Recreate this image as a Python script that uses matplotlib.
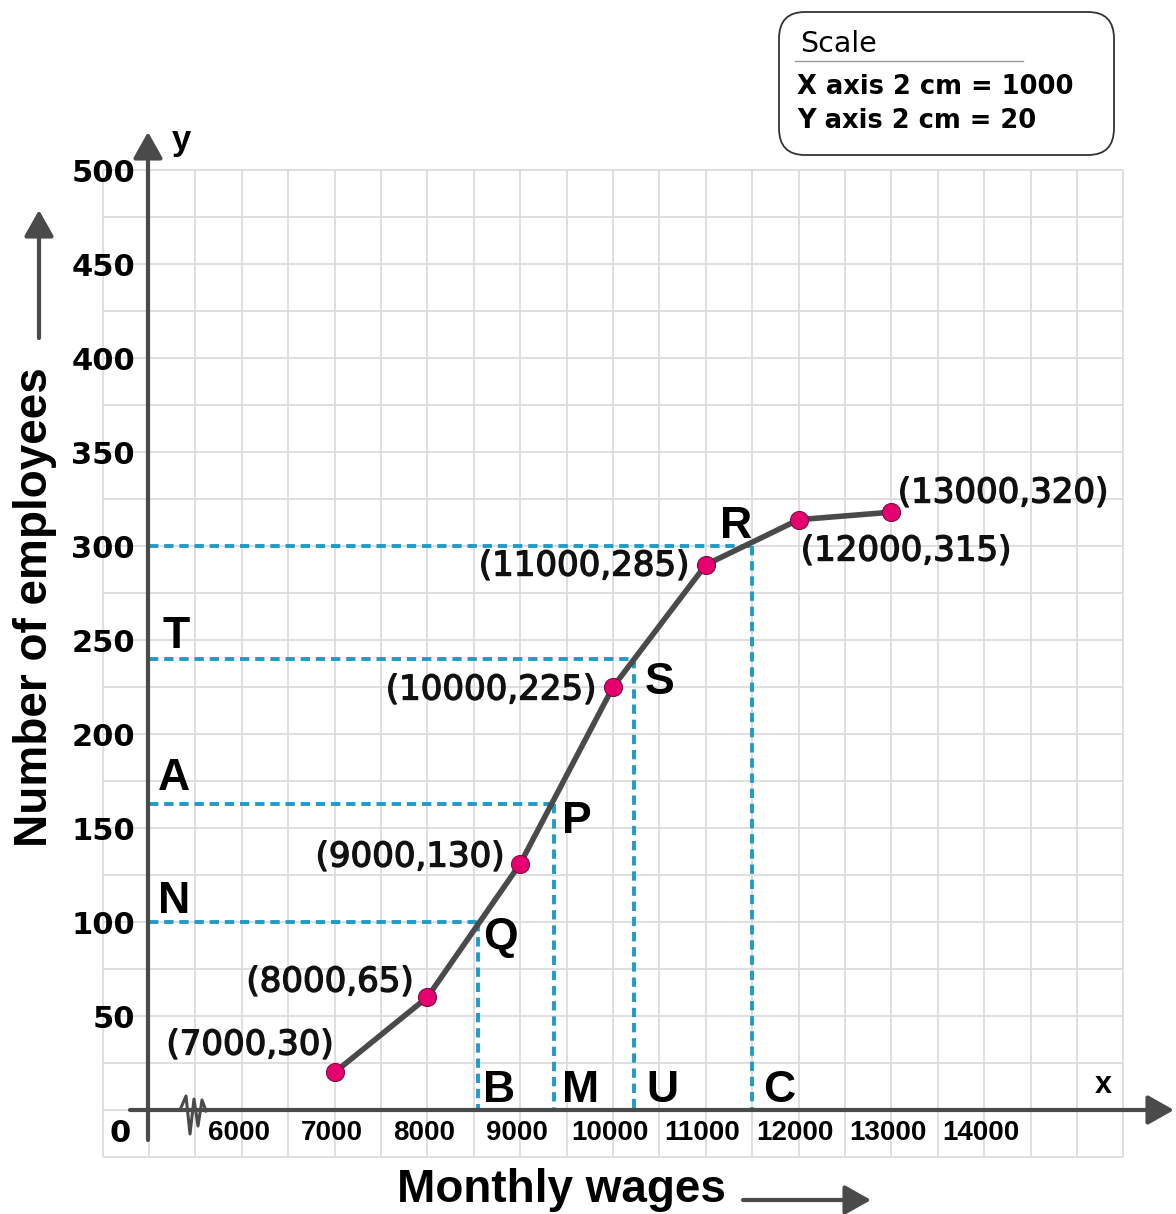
import matplotlib.pyplot as plt
import matplotlib.patheffects as pe
from matplotlib.patches import FancyArrowPatch, FancyBboxPatch

# cumulative frequency (ogive) - points as they sit on the grid
wages = [7000, 8000, 9000, 10000, 11000, 12000, 13000]
employees = [20, 60, 131, 225, 290, 314, 318]
point_labels = ['(7000,30)', '(8000,65)', '(9000,130)', '(10000,225)',
                '(11000,285)', '(12000,315)', '(13000,320)']

x_ticks = [6000, 7000, 8000, 9000, 10000, 11000, 12000, 13000, 14000]
y_ticks = [50, 100, 150, 200, 250, 300, 350, 400, 450, 500]

# dashed guide lines: level on y axis and where it meets the curve
guide_y = [100, 163, 240, 300]
guide_x = [8540, 9365, 10230, 11500]

GREY = '#4a4a4a'
BLUE = '#1f9bc7'
PINK = '#e5006f'

# pixel -> data helper (layout only)
def px(x, y):
    return 5000 + (x - 149) / 0.0928, (1110 - y) / 1.88

fig = plt.figure(figsize=(11.76, 12.14), dpi=100)
ax = fig.add_axes([0, 0, 1, 1])
x0, y0 = px(0, 1214)
x1, y1 = px(1176, 0)
ax.set_xlim(x0, x1)
ax.set_ylim(y0, y1)
ax.axis('off')

# graph paper
ax.vlines(range(4500, 15501, 500), -25, 500, color='#dcdcdc', lw=1.3, zorder=0)
ax.hlines(range(-25, 501, 25), 4500, 15500, color='#dcdcdc', lw=1.3, zorder=0)

# axes with arrow heads
def arrow(a, b, lw=3.0):
    p = FancyArrowPatch(a, b, arrowstyle='-|>,head_width=0.45,head_length=0.8',
                        mutation_scale=20, lw=lw, color=GREY, shrinkA=0, shrinkB=0,
                        zorder=5)
    ax.add_patch(p)

arrow(px(148, 1140), px(148, 132))
arrow(px(130, 1110), px(1174, 1110))

# axis break
zz = [(180, 1110), (186, 1096), (190, 1134), (194, 1099), (198, 1126), (202, 1100), (206, 1111)]
ax.plot([px(*p)[0] for p in zz], [px(*p)[1] for p in zz], color=GREY, lw=2.2, zorder=6)

# tick labels
for v in y_ticks:
    ax.text(px(135, 0)[0], v - 2, str(v), ha='right', va='center', fontsize=22,
            fontweight='bold', family='DejaVu Sans')
for v in x_ticks:
    ax.text(v - 35, px(0, 1133)[1], str(v), ha='center', va='center', fontsize=20,
            fontweight='bold', family='Liberation Sans')
ax.text(*px(120, 1133), '0', ha='center', va='center', fontsize=22,
        fontweight='bold', family='DejaVu Sans')
ax.text(*px(172, 150), 'y', ha='left', va='baseline', fontsize=25,
        fontweight='bold', family='Liberation Sans')
ax.text(*px(1103, 1093), 'x', ha='center', va='baseline', fontsize=22,
        fontweight='bold', family='Liberation Sans')

# guide lines
for gy, gx in zip(guide_y, guide_x):
    ax.plot([5000, gx], [gy, gy], color=BLUE, lw=2.8, dashes=(2.4, 1.5), zorder=2)
    ax.plot([gx, gx], [gy, 0], color=BLUE, lw=2.8, dashes=(2.4, 1.5), zorder=2)

# ogive
ax.plot(wages, employees, color=GREY, lw=4, zorder=3, solid_capstyle='round')
ax.plot(wages, employees, 'o', ms=13, mfc=PINK, mec='#7a1040', mew=0.8, zorder=4)

label_pos = [(250, 1045), (330, 982), (410, 857), (491, 690),
             (584, 566), (906, 551), (1003, 493)]
for txt, pos in zip(point_labels, label_pos):
    ax.text(*px(*pos), txt, ha='center', va='center', fontsize=24.5,
            family='DejaVu Sans', color='#111111',
            path_effects=[pe.withStroke(linewidth=1.0, foreground='#111111')])

# letters
letters = ['T', 'A', 'N', 'S', 'P', 'Q', 'R', 'B', 'M', 'U', 'C']
letter_pos = [(163, 648), (158, 790), (158, 913), (645, 694), (562, 833), (483, 949),
              (720, 538), (483, 1102), (562, 1102), (646, 1102), (763, 1102)]
for t, pos in zip(letters, letter_pos):
    ax.text(*px(*pos), t, ha='left', va='baseline', fontsize=32,
            fontweight='bold', family='Liberation Sans')

# axis titles
ax.text(*px(47, 607), 'Number of employees', rotation=90, rotation_mode='anchor',
        ha='center', va='baseline', fontsize=33, fontweight='bold', family='Liberation Sans')
arrow(px(39, 338), px(39, 210))
ax.text(*px(561, 1202), 'Monthly wages', ha='center', va='baseline', fontsize=33,
        fontweight='bold', family='Liberation Sans')
arrow(px(743, 1200), px(871, 1200))

# scale box
W, H = 1176, 1214
box = FancyBboxPatch((779 / W, 1 - 155 / H), (1114 - 779) / W, 143 / H,
                     boxstyle='round,pad=0,rounding_size=0.022', transform=fig.transFigure,
                     fc='white', ec='#333333', lw=1.3)
fig.add_artist(box)
fig.text(800 / W, 1 - 52 / H, 'Scale', fontsize=20.5, family='DejaVu Sans', va='baseline')
fig.add_artist(plt.Line2D([795 / W, 1023 / W], [1 - 61 / H, 1 - 61 / H],
                          transform=fig.transFigure, color='#999999', lw=1))
fig.text(797 / W, 1 - 94 / H, 'X axis 2 cm = 1000', fontsize=18.5, fontweight='bold',
         family='DejaVu Sans', va='baseline')
fig.text(797 / W, 1 - 128 / H, 'Y axis 2 cm = 20', fontsize=18.5, fontweight='bold',
         family='DejaVu Sans', va='baseline')

fig.savefig('out.png', dpi=100)
